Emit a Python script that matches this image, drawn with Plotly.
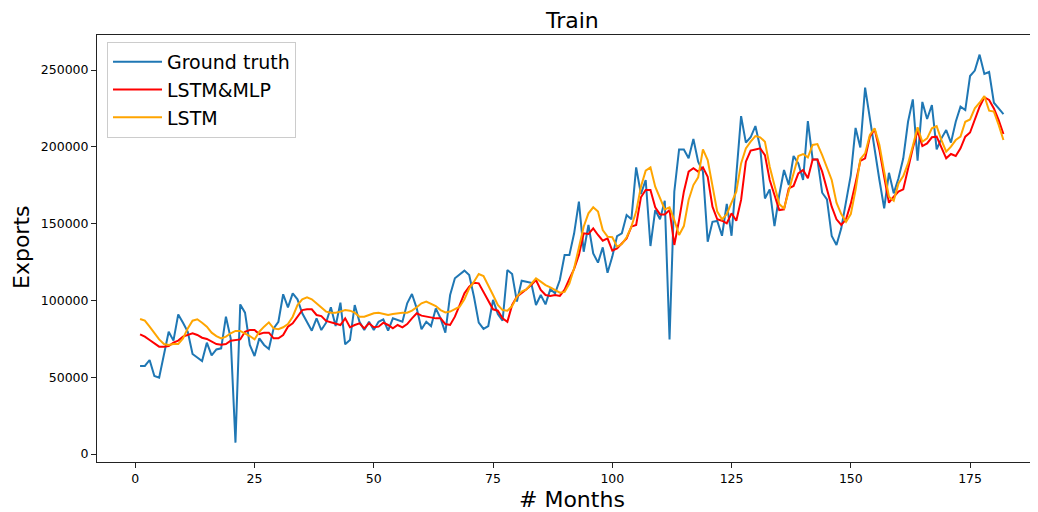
import plotly.graph_objects as go

months = list(range(1, 183))

ground_truth = [
    57300, 57300, 61200, 50800, 49700, 64400, 79600, 73800, 90900, 85500,
    79600, 65100, 62900, 60500, 72500, 64200, 68100, 68800, 89400, 75300,
    7400, 97400, 92000, 71000, 63800, 75300, 71000, 68400, 81800, 86100,
    104000, 95500, 104600, 100700, 91600, 86100, 80300, 88300, 80700, 85500,
    95500, 83300, 98500, 71400, 74200, 97000, 86100, 80700, 86100, 80700,
    86100, 87700, 80300, 88300, 87200, 86100, 98100, 104200, 94800, 81200,
    86100, 83300, 94800, 88300, 79000, 103500, 114400, 117200, 119400, 116500,
    102400, 85500, 81400, 83300, 100300, 91100, 86800, 119800, 117200, 99200,
    112800, 112200, 111500, 97000, 103500, 97400, 107200, 104600, 113300, 129500,
    129500, 143700, 164300, 131700, 149100, 130600, 124600, 134500, 118000, 128500,
    141900, 143700, 155600, 152800, 186600, 169300, 178400, 135400, 158800, 152800,
    164900, 74600, 170800, 198300, 198300, 192500, 205100, 190300, 183800, 138200,
    151200, 151700, 142100, 162800, 142100, 181600, 220000, 202700, 206200, 213500,
    199600, 166400, 172300, 148400, 168600, 184900, 175100, 194000, 189200, 178400,
    216800, 191800, 191800, 170100, 165800, 141900, 136100, 146900, 163200, 181600,
    212300, 199600, 238500, 217400, 196800, 178400, 159900, 183100, 169700, 179500,
    192500, 216300, 230900, 191000, 229200, 218100, 227200, 198300, 205500, 210900,
    202700, 216300, 226100, 223900, 246100, 249600, 260000, 247400, 248700, 228700,
    225000, 221300,
]

lstm_mlp = [
    77900, 76400, 74200, 72000, 69900, 69900, 70300, 72500, 73800, 76400,
    77500, 78600, 77500, 75700, 74900, 73100, 71600, 71200, 71600, 73800,
    74200, 74600, 79600, 80700, 80700, 78100, 79000, 79000, 75300, 75300,
    77500, 82900, 85100, 89400, 93700, 94200, 94200, 90500, 89800, 86600,
    85700, 84600, 84000, 88300, 82500, 84000, 85100, 81800, 85100, 82500,
    82900, 85500, 84000, 81800, 84000, 82500, 84600, 88300, 91600, 90100,
    89400, 88800, 88300, 88300, 84600, 84000, 89400, 97000, 104600, 108900,
    111500, 111100, 105700, 99800, 94200, 93300, 88300, 86100, 97000, 102400,
    104600, 107200, 110000, 113300, 106800, 103500, 102900, 103500, 102900, 107000,
    114000, 120500, 129500, 143700, 143200, 146900, 142600, 138900, 140400, 132400,
    133900, 137100, 140400, 148000, 149100, 167100, 171900, 171900, 160600, 156000,
    156000, 158800, 136100, 152300, 170800, 183800, 186000, 183800, 186600, 180500,
    161000, 152800, 151900, 150200, 156700, 151900, 165400, 190300, 197500, 198300,
    199000, 194600, 178400, 168600, 158800, 159300, 172900, 174500, 182700, 184900,
    179500, 191800, 191800, 183800, 172900, 161000, 152800, 149100, 152800, 163000,
    176500, 190800, 192500, 206600, 211400, 197900, 180500, 163600, 167500, 170800,
    172300, 186000, 199000, 210500, 200500, 202200, 206200, 206600, 199000, 192500,
    195300, 194000, 199000, 206600, 209300, 217400, 226100, 232200, 230500, 225000,
    217400, 208300,
]

lstm = [
    87900, 86800, 82900, 78600, 74600, 71600, 71000, 71600, 71600, 75300,
    81800, 86800, 87700, 85500, 82900, 79000, 76800, 75300, 76400, 78600,
    80100, 80100, 78600, 76800, 74600, 79600, 82900, 85700, 81800, 81200,
    82500, 84600, 89400, 97000, 100700, 102000, 100700, 98100, 95500, 92700,
    92000, 92000, 92700, 93700, 93300, 92000, 89400, 89400, 90500, 91600,
    92000, 91100, 90500, 91100, 91600, 92000, 92000, 93300, 95500, 98100,
    99200, 97600, 96300, 93700, 92200, 92700, 94200, 95900, 100700, 107800,
    112200, 117200, 115900, 110000, 103500, 97000, 93700, 93300, 96300, 102400,
    105700, 107200, 111100, 114400, 112200, 110000, 108500, 106800, 105000, 105500,
    111000, 120900, 133900, 148000, 156700, 160600, 157800, 145800, 141500, 141100,
    135000, 136700, 141100, 148000, 157800, 174000, 184500, 186600, 174000, 166400,
    159300, 160600, 152300, 142600, 148400, 165400, 175100, 180100, 198300, 191400,
    174000, 157800, 152800, 156200, 163600, 170800, 189200, 199000, 203300, 207000,
    206200, 203300, 187000, 174000, 162700, 159900, 171900, 183800, 194000, 195300,
    193100, 201200, 201800, 194600, 186600, 178400, 163600, 156200, 151200, 156200,
    172000, 192000, 195700, 207700, 212000, 201200, 183800, 167500, 164900, 176200,
    181000, 189200, 200500, 212700, 203300, 205500, 212000, 213500, 204400, 196800,
    200100, 204400, 206600, 216300, 217800, 225000, 228700, 233100, 223500, 222900,
    214200, 204400,
]

x_tick_vals = [0, 25, 50, 75, 100, 125, 150, 175]
y_tick_vals = [0, 50000, 100000, 150000, 200000, 250000]
y_tick_text = ["0", "50000", "100000", "150000", "200000", "250000"]

series = [
    ("Ground truth", ground_truth, "#1f77b4"),
    ("LSTM&MLP", lstm_mlp, "red"),
    ("LSTM", lstm, "orange"),
]

fig = go.Figure()
for name, vals, color in series:
    fig.add_trace(go.Scatter(x=months, y=vals, mode="lines", name=name,
                             line=dict(color=color, width=2)))

# The page places the figure 8 px in from the top-left corner of the window.
OFF = 8
W, H = 1038 - OFF, 512 - OFF
# plot area in window pixels
sl, sr, st, sb = 97, 1038, 35, 462
left, right, top, bottom = sl - OFF, sr - OFF, st - OFF, sb - OFF
x0_px, px_per_unit = 135.3, 4.77
y0_px, px_per_val = 454.0, 76.8 / 50000


def xp(sx):
    return (sx - sl) / (sr - sl)


def yp(sy):
    return 1 - (sy - st) / (sb - st)


fig.update_layout(
    width=W, height=H,
    margin=dict(l=left, r=W - right, t=top, b=H - bottom, pad=0, autoexpand=False),
    paper_bgcolor="white", plot_bgcolor="white",
    font=dict(family="DejaVu Sans", color="black", size=12),
    showlegend=True,
    legend=dict(x=xp(107), y=yp(42), xanchor="left", yanchor="top",
                bgcolor="rgba(255,255,255,0.8)", bordercolor="#cccccc", borderwidth=1,
                font=dict(size=19), tracegroupgap=0, itemwidth=49),
    annotations=[
        dict(text="Train", x=xp(572), y=yp(21), xref="paper", yref="paper",
             xanchor="center", yanchor="middle", showarrow=False, font=dict(size=22)),
        dict(text="# Months", x=xp(572), y=yp(499), xref="paper", yref="paper",
             xanchor="center", yanchor="middle", showarrow=False, font=dict(size=22)),
        dict(text="Exports", x=xp(21), y=yp(248), xref="paper", yref="paper",
             xanchor="center", yanchor="middle", showarrow=False, textangle=-90,
             font=dict(size=22)),
    ],
)
fig.update_xaxes(
    range=[(sl - x0_px) / px_per_unit, (sr - x0_px) / px_per_unit],
    tickvals=x_tick_vals,
    showline=True, mirror=True, linecolor="#222222", linewidth=1,
    ticks="outside", ticklen=5, tickcolor="#222222", showgrid=False, zeroline=False,
    automargin=False, tickfont=dict(size=12.5),
)
fig.update_yaxes(
    range=[(y0_px - sb) / px_per_val, (y0_px - st) / px_per_val],
    tickvals=y_tick_vals, ticktext=y_tick_text,
    showline=True, mirror=False, linecolor="#222222", linewidth=1,
    ticks="outside", ticklen=5, tickcolor="#222222", showgrid=False, zeroline=False,
    automargin=False, tickfont=dict(size=12.5),
)

fig.write_html("out.html")
